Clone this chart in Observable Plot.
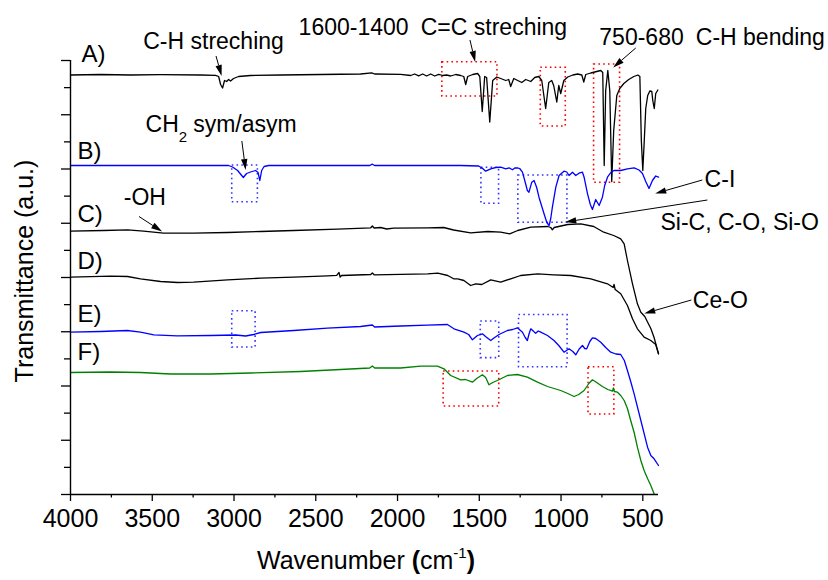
<!DOCTYPE html>
<html><head><meta charset="utf-8">
<script src="https://cdn.jsdelivr.net/npm/d3@7"></script>
<script src="https://cdn.jsdelivr.net/npm/@observablehq/plot@0.6"></script>
<style>body{margin:0;background:#fff;} #chart{width:828px;height:580px;}</style>
</head><body><div id="chart"></div>
<script>
// ---- data: [wavenumber (cm-1), transmittance (a.u., offset)] ----
const specA = [[4000,41.95],[3816,42.0],[3633,41.95],[3449,41.98],[3205,41.95],[3113,41.92],[3094,41.8],[3082,41.0],[3070,40.65],[3058,41.4],[3045,41.3],[3033,41.5],[3021,41.35],[3003,41.6],[2972,41.8],[2899,41.9],[2715,41.95],[2470,42.0],[2226,42.05],[2158,42.17],[2140,42.05],[1981,42.02],[1920,41.9],[1895,42.05],[1871,41.87],[1846,42.05],[1822,41.85],[1797,42.05],[1773,41.85],[1748,42.02],[1724,41.9],[1699,41.95],[1675,41.85],[1644,42.0],[1614,41.9],[1595,41.8],[1583,41.0],[1571,41.8],[1540,42.0],[1510,42.1],[1497,41.8],[1482,38.3],[1467,41.8],[1455,41.7],[1436,37.25],[1418,41.4],[1393,41.75],[1369,41.6],[1338,41.4],[1320,41.5],[1308,40.8],[1289,41.6],[1265,41.4],[1240,41.2],[1216,41.5],[1185,41.3],[1161,41.7],[1136,41.8],[1118,41.4],[1094,38.6],[1075,41.2],[1057,41.4],[1045,40.9],[1026,39.25],[1014,40.9],[1002,40.1],[983,41.4],[959,41.75],[928,41.95],[898,42.05],[873,41.95],[861,41.25],[849,42.0],[818,42.15],[782,42.3],[757,42.4],[745,42.2],[736,32.9],[727,40.4],[714,42.4],[702,40.4],[690,31.3],[678,36.4],[659,39.9],[641,40.6],[616,41.1],[586,41.5],[555,41.8],[530,41.95],[518,41.8],[509,35.4],[500,32.4],[491,35.4],[482,38.6],[470,39.9],[457,40.35],[445,40.3],[439,39.4],[430,38.6],[421,40.1],[408,40.45]];
const specB = [[4000,32.9],[3510,32.9],[3033,32.9],[3009,32.75],[2978,32.4],[2943,31.7],[2923,32.1],[2899,32.25],[2868,32.4],[2853,32.2],[2842,31.4],[2831,32.4],[2816,32.8],[2788,32.9],[2593,32.9],[2170,32.9],[2154,33.03],[2140,32.9],[1858,32.9],[1614,32.9],[1504,32.85],[1479,32.6],[1461,32.33],[1430,32.57],[1399,32.7],[1369,32.73],[1338,32.57],[1318,32.67],[1297,32.47],[1283,32.65],[1267,32.67],[1253,32.6],[1236,32.23],[1222,31.4],[1206,30.4],[1196,30.23],[1179,31.23],[1165,31.4],[1149,30.7],[1135,29.73],[1104,28.07],[1087,27.2],[1073,26.9],[1063,27.6],[1053,28.73],[1032,30.73],[1012,31.9],[982,32.33],[965,32.25],[951,31.9],[930,32.23],[910,31.9],[890,32.13],[869,32.23],[859,31.73],[838,30.07],[821,29.0],[808,28.5],[788,29.5],[767,28.9],[747,29.73],[733,30.9],[716,31.73],[696,32.2],[676,32.4],[635,32.4],[594,32.57],[553,32.67],[523,32.45],[502,32.1],[482,31.3],[462,30.6],[441,31.4],[421,31.85],[404,31.73]];
const specC = [[4000,26.33],[3798,26.4],[3651,26.47],[3553,26.33],[3431,26.13],[3247,26.13],[3039,26.2],[2837,26.3],[2636,26.4],[2367,26.53],[2164,26.67],[2154,26.85],[2143,26.65],[2103,26.7],[2066,26.55],[2024,26.63],[1816,26.67],[1718,26.7],[1657,26.45],[1553,26.17],[1448,26.3],[1369,26.23],[1314,26.07],[1265,26.4],[1185,26.73],[1081,26.8],[1063,26.7],[1053,26.47],[1042,26.7],[959,27.0],[879,27.07],[800,26.8],[739,26.23],[678,25.9],[635,25.57],[614,25.07],[594,23.4],[563,21.07],[533,19.07],[512,18.23],[488,17.8],[451,16.6],[431,15.7],[404,14.07]];
const specD = [[4000,21.73],[3755,21.83],[3651,21.8],[3572,21.57],[3449,21.3],[3345,21.2],[3247,21.23],[3039,21.47],[2837,21.63],[2636,21.73],[2427,21.87],[2372,21.92],[2358,22.2],[2351,21.75],[2342,21.9],[2164,22.0],[2154,22.15],[2143,21.97],[1981,22.02],[1816,22.07],[1754,22.13],[1693,21.9],[1657,21.57],[1632,21.57],[1594,21.4],[1553,20.9],[1522,21.07],[1485,21.0],[1430,21.47],[1369,21.23],[1308,21.57],[1247,21.9],[1143,22.07],[1045,21.97],[941,21.9],[818,21.57],[716,21.07],[681,20.7],[676,21.0],[669,20.5],[635,20.07],[594,18.9],[563,17.57],[533,16.57],[492,15.73],[451,15.4],[421,15.0],[404,14.07]];
const specE = [[4000,16.23],[3816,16.3],[3653,16.4],[3572,16.23],[3490,15.97],[3347,15.87],[3143,15.9],[2990,15.95],[2929,15.85],[2880,16.0],[2837,16.2],[2634,16.4],[2429,16.63],[2226,16.8],[2154,16.95],[2140,16.75],[1981,16.85],[1817,16.93],[1695,17.0],[1655,16.57],[1594,16.23],[1565,16.0],[1542,15.47],[1511,15.9],[1481,16.07],[1458,15.75],[1430,15.4],[1406,15.7],[1379,16.0],[1328,16.4],[1296,16.5],[1267,16.67],[1236,16.23],[1219,15.7],[1206,15.4],[1195,16.1],[1185,16.57],[1167,16.3],[1155,16.13],[1140,16.35],[1124,16.23],[1083,15.9],[1043,15.4],[1014,14.9],[982,14.23],[951,14.57],[928,14.3],[910,13.97],[889,14.55],[869,14.9],[855,14.6],[843,14.57],[824,15.3],[808,15.67],[788,15.6],[757,15.23],[727,14.7],[696,14.23],[665,14.05],[635,14.0],[613,13.4],[594,12.4],[574,11.3],[553,10.07],[512,7.4],[471,4.73],[451,3.9],[431,3.57],[404,2.9]];
const specF = [[4000,12.2],[3755,12.25],[3572,12.2],[3388,12.05],[3143,12.05],[2899,12.15],[2593,12.3],[2348,12.5],[2170,12.65],[2154,12.85],[2140,12.65],[1981,12.65],[1858,12.83],[1756,12.83],[1716,12.57],[1675,11.9],[1614,11.47],[1584,11.5],[1542,11.23],[1516,11.6],[1481,11.97],[1461,11.7],[1441,10.97],[1418,11.2],[1389,11.4],[1328,11.9],[1267,12.0],[1206,11.73],[1144,11.23],[1083,10.8],[1002,10.4],[959,10.1],[920,9.8],[892,10.0],[859,10.4],[830,11.1],[808,11.47],[782,11.2],[747,10.8],[714,10.5],[685,10.33],[680,10.65],[674,10.3],[655,10.23],[635,9.9],[614,9.4],[594,8.6],[574,7.4],[553,6.2],[533,4.73],[512,3.4],[492,2.4],[471,1.6],[451,0.9],[431,0.07]];

// sample labels
const sampleLabels = ["A)", "B)", "C)", "D)", "E)", "F)"];
const labelWn = [3933, 3957, 3957, 3957, 3957, 3957];
const labelT = [43.3, 33.6, 27.3, 22.6, 17.3, 13.5];

// annotation texts
const noteText = ["C-H streching", "1600-1400", "C=C streching", "750-680", "C-H bending", "-OH", "C-I", "Si-C, C-O, Si-O", "Ce-O"];
const noteWn = [3555, 2605, 1858, 766, 176, 3674, 122, 392, 194];
const noteT = [44.6, 46.0, 46.0, 45.0, 45.0, 28.95, 30.8, 26.5, 18.65];
const ch2Pos = [3076, 36.2];

// arrows: from -> to  [wavenumber, transmittance]
const arrowFrom = [[3107,43.8],[1554,45.4],[540,44.6],[2949,35.3],[133,31.4],[102,29.4],[3578,27.75],[200,19.4]];
const arrowTo   = [[3073,41.8],[1522,43.2],[678,42.65],[2926,32.4],[421,30.05],[971,27.2],[3437,26.25],[488,18.05]];

// dotted boxes [wn1, wn2, t1, t2]
const redBoxes = [[1726,1389,43.23,39.8],[1124,971,42.67,36.8],[798,639,43.0,31.17],[1718,1378,12.3,8.8],[832,674,12.73,8.0]];
const blueBoxes = [[3011,2854,32.9,29.23],[1487,1379,32.67,29.07],[1261,961,31.9,27.17],[3011,2868,18.33,14.7],[1491,1378,17.3,13.64],[1257,960,17.95,12.73]];

// ticks
const xMajor = [4000,3500,3000,2500,2000,1500,1000,500];
const xMinor = [3750,3250,2750,2250,1750,1250,750];
const yMajor = [0,5.425,10.85,16.275,21.7,27.125,32.55,37.975,43.4];
const yMinor = [2.7125,8.1375,13.5625,18.9875,24.4125,29.8375,35.2625,40.6875];

const FONT = "'Liberation Sans', Arial, Helvetica, sans-serif";
const series = [
  {data: specA, color: "#000000"}, {data: specB, color: "#0000ff"}, {data: specC, color: "#000000"},
  {data: specD, color: "#000000"}, {data: specE, color: "#0000ff"}, {data: specF, color: "#008000"}
];

const labelRows = sampleLabels.map((t, i) => ({t, x: labelWn[i], y: labelT[i]}));
const noteRows = noteText.map((t, i) => ({t, x: noteWn[i], y: noteT[i]}));
const toBox = b => ({x1: b[0], x2: b[1], y1: b[2], y2: b[3]});

function arrows(index, scales) {
  const g = d3.create("svg:g");
  arrowFrom.forEach((f, i) => {
    const t = arrowTo[i];
    const x1 = scales.x(f[0]), y1 = scales.y(f[1]), x2 = scales.x(t[0]), y2 = scales.y(t[1]);
    const a = Math.atan2(y2 - y1, x2 - x1), L = 11, W = 3.2;
    const bx = x2 - L * Math.cos(a), by = y2 - L * Math.sin(a);
    g.append("line").attr("x1", x1).attr("y1", y1).attr("x2", bx).attr("y2", by)
      .attr("stroke", "black").attr("stroke-width", 1);
    g.append("path").attr("d", `M${x2},${y2}L${bx - W*Math.sin(a)},${by + W*Math.cos(a)}L${bx + W*Math.sin(a)},${by - W*Math.cos(a)}Z`)
      .attr("fill", "black");
  });
  return g.node();
}

function richTexts(index, scales, values, dims) {
  const g = d3.create("svg:g").attr("font-family", FONT).attr("fill", "black");
  // CH2 sym/asym
  const t = g.append("text").attr("x", scales.x(ch2Pos[0])).attr("y", scales.y(ch2Pos[1])).attr("font-size", 23);
  t.append("tspan").text("CH");
  t.append("tspan").attr("font-size", 15).attr("dy", 10).text("2");
  t.append("tspan").attr("dy", -10).attr("dx", 6).text("sym/asym");
  // x title
  const cx = (dims.marginLeft + dims.width - dims.marginRight) / 2;
  const xt = g.append("text").attr("x", cx + 2).attr("y", dims.height - 11).attr("text-anchor", "middle").attr("font-size", 25);
  xt.append("tspan").text("Wavenumber ");
  xt.append("tspan").attr("font-weight", "bold").text("(");
  xt.append("tspan").text("cm");
  xt.append("tspan").attr("font-size", 15).attr("dy", -11).text("-1");
  xt.append("tspan").attr("font-weight", "bold").attr("dy", 11).text(")");
  // y title
  const cy = (dims.marginTop + dims.height - dims.marginBottom) / 2 - 6;
  g.append("text").attr("transform", `translate(33,${cy}) rotate(-90)`).attr("text-anchor", "middle")
    .attr("font-size", 25).text("Transmittance (a.u.)");
  return g.node();
}

const chart = Plot.plot({
  width: 828, height: 580,
  marginLeft: 70, marginRight: 170, marginTop: 60, marginBottom: 86,
  style: {fontFamily: FONT, fontSize: "25px", color: "black", background: "white", overflow: "visible"},
  x: {domain: [4000, 404]},
  y: {domain: [0, 43.4]},
  marks: [
    Plot.rect(redBoxes.map(toBox), {x1: "x1", x2: "x2", y1: "y1", y2: "y2", fill: "none", stroke: "#ff0000", strokeWidth: 1.6, strokeDasharray: "1.6,3.2"}),
    Plot.rect(blueBoxes.map(toBox), {x1: "x1", x2: "x2", y1: "y1", y2: "y2", fill: "none", stroke: "#3333ff", strokeWidth: 1.6, strokeDasharray: "1.6,3.2"}),
    ...series.map(s => Plot.line(s.data, {x: d => d[0], y: d => d[1], stroke: s.color, strokeWidth: 1.3})),
    Plot.axisX({ticks: xMajor, tickSize: 7, tickPadding: 8, tickFormat: d => String(d), label: null, fontSize: 25, strokeWidth: 1.3}),
    Plot.axisX({ticks: xMinor, tickSize: 3.5, tickFormat: () => "", label: null, strokeWidth: 1.3}),
    Plot.axisY({ticks: yMajor, tickSize: 9, tickFormat: () => "", label: null, strokeWidth: 1.3}),
    Plot.axisY({ticks: yMinor, tickSize: 6, tickFormat: () => "", label: null, strokeWidth: 1.3}),
    Plot.ruleY([0], {strokeWidth: 1.4}),
    Plot.ruleX([4000], {strokeWidth: 1.4}),
    Plot.text(labelRows, {x: "x", y: "y", text: "t", textAnchor: "start", lineAnchor: "bottom", fontSize: 24}),
    Plot.text(noteRows, {x: "x", y: "y", text: "t", textAnchor: "start", lineAnchor: "bottom", fontSize: 23}),
    arrows,
    richTexts
  ]
});
document.getElementById("chart").appendChild(chart);
</script></body></html>
